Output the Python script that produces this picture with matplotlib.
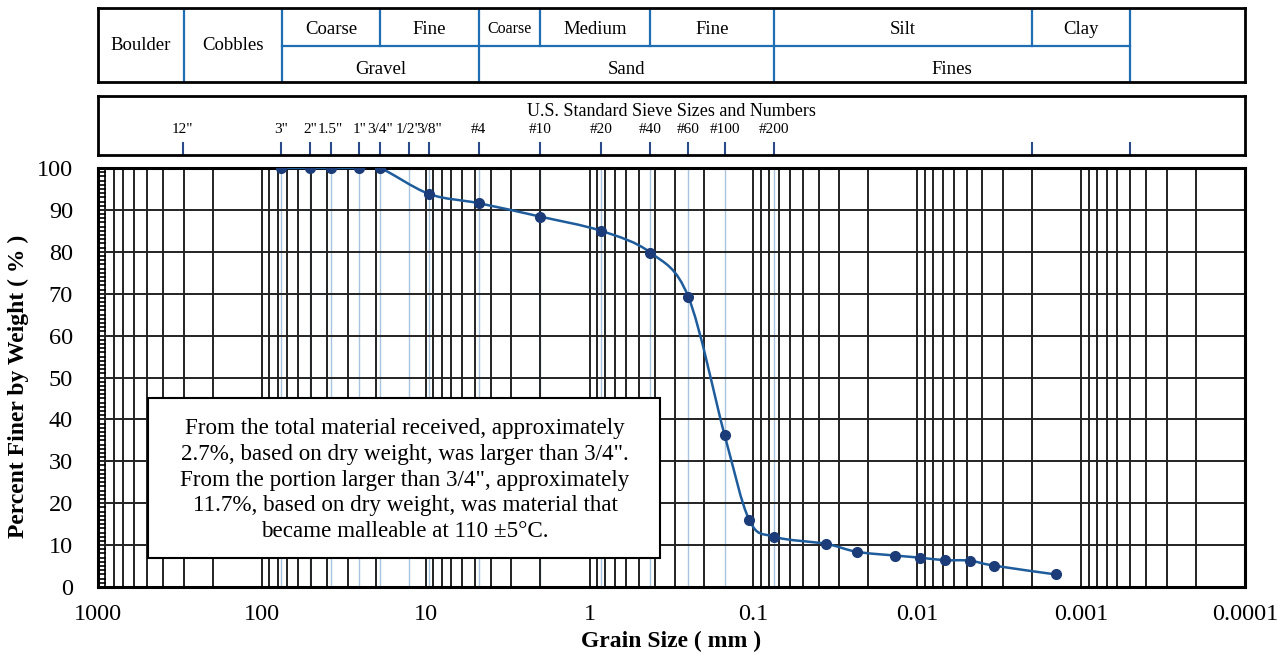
import numpy as np
import matplotlib
matplotlib.use("Agg")
import matplotlib.pyplot as plt
from matplotlib.path import Path
from matplotlib.patches import PathPatch, Rectangle
from matplotlib.ticker import FixedLocator, LogLocator, MultipleLocator, NullFormatter

plt.rcParams['font.family'] = ['Liberation Serif', 'DejaVu Serif']

# gradation results (grain size in mm, percent finer by weight)
grain_mm = [76.2, 50.8, 38.1, 25.4, 19.05, 9.525, 4.75, 2.0, 0.85, 0.425, 0.25,
            0.15, 0.106, 0.075, 0.0361, 0.0234, 0.0136, 0.0096, 0.0068, 0.0048,
            0.0034, 0.00143]
pct_finer = [100, 100, 100, 100, 100, 93.8, 91.6, 88.4, 85.0, 79.8, 69.3,
             36.3, 16.0, 12.0, 10.3, 8.4, 7.5, 7.0, 6.4, 6.3, 5.1, 3.0]

# sieve sizes shown in the middle strip
sieve_labels = ['12"', '3"', '2"', '1.5"', '1"', '3/4"', '1/2"', '3/8"',
                '#4', '#10', '#20', '#40', '#60', '#100', '#200']
sieve_mm = [304.8, 76.2, 50.8, 38.1, 25.4, 19.05, 12.7, 9.525,
            4.75, 2.0, 0.85, 0.425, 0.25, 0.15, 0.075]
extra_tick_mm = [0.002, 0.0005]

# soil classification table
full_names = ['Boulder', 'Cobbles']
full_lo = [1000, 300]
full_hi = [300, 75]
top_names = ['Coarse', 'Fine', 'Coarse', 'Medium', 'Fine', 'Silt', 'Clay']
top_lo = [75, 19, 4.75, 2.0, 0.425, 0.075, 0.002]
top_hi = [19, 4.75, 2.0, 0.425, 0.075, 0.002, 0.0005]
bottom_names = ['Gravel', 'Sand', 'Fines']
bottom_lo = [75, 4.75, 0.075]
bottom_hi = [4.75, 0.075, 0.0005]

x_ticks = [1000, 100, 10, 1, 0.1, 0.01, 0.001, 0.0001]
x_ticklabels = ['1000', '100', '10', '1', '0.1', '0.01', '0.001', '0.0001']

note = ('From the total material received, approximately\n'
        '2.7%, based on dry weight, was larger than 3/4".\n'
        'From the portion larger than 3/4", approximately\n'
        '11.7%, based on dry weight, was material that\n'
        'became malleable at 110 \u00b15\u00b0C.')

blue = '#1f6db3'
W, H = 1282, 658
fig = plt.figure(figsize=(W / 100, H / 100), dpi=100)


def box(x0, y0, x1, y1):
    return [x0 / W, 1 - y1 / H, (x1 - x0) / W, (y1 - y0) / H]


def setup_log(a):
    a.set_xscale('log')
    a.set_xlim(1000, 1e-4)
    a.set_xticks([])
    a.set_xticks([], minor=True)
    a.set_yticks([])
    for s in a.spines.values():
        s.set_linewidth(2)
        s.set_color('black')


# --- classification table ---
tab = fig.add_axes(box(98, 8, 1245, 82))
setup_log(tab)
tab.set_ylim(0, 1)
for x in [300, 75, 4.75, 0.075, 0.0005]:
    tab.axvline(x, color=blue, lw=1.6)
for x in [19, 2.0, 0.425, 0.002]:
    tab.plot([x, x], [0.49, 1], color=blue, lw=1.6)
tab.plot([75, 0.0005], [0.49, 0.49], color=blue, lw=1.6)
for n, lo, hi in zip(full_names, full_lo, full_hi):
    tab.text(np.sqrt(lo * hi), 0.5, n, ha='center', va='center', fontsize=13.5)
for i, (n, lo, hi) in enumerate(zip(top_names, top_lo, top_hi)):
    fs = 11.5 if i == 2 else 13.5
    tab.text(np.sqrt(lo * hi), 0.71, n, ha='center', va='center', fontsize=fs)
for n, lo, hi in zip(bottom_names, bottom_lo, bottom_hi):
    tab.text(np.sqrt(lo * hi), 0.17, n, ha='center', va='center', fontsize=13.5)

# --- sieve strip ---
sv = fig.add_axes(box(98, 96, 1245, 155))
setup_log(sv)
sv.set_ylim(0, 1)
for x in sieve_mm + extra_tick_mm:
    sv.plot([x, x], [0, 0.2], color='#2a4a8a', lw=1.5)
for lab, x in zip(sieve_labels, sieve_mm):
    sv.text(x, 0.43, lab, ha='center', va='center', fontsize=11)
sv.text(0.5, 0.74, 'U.S. Standard Sieve Sizes and Numbers', transform=sv.transAxes,
        ha='center', va='center', fontsize=13)

# --- main grading chart ---
ax = fig.add_axes(box(98, 168, 1245, 587))
ax.set_xscale('log')
ax.set_xlim(1000, 1e-4)
ax.set_ylim(0, 100)
ax.xaxis.set_major_locator(FixedLocator(x_ticks))
ax.set_xticklabels(x_ticklabels)
ax.xaxis.set_minor_locator(LogLocator(base=10, subs=range(2, 10), numticks=50))
ax.xaxis.set_minor_formatter(NullFormatter())
ax.yaxis.set_major_locator(MultipleLocator(10))
ax.yaxis.set_minor_locator(MultipleLocator(1))
ax.tick_params(axis='x', which='both', length=0, pad=12, labelsize=17.5)
ax.tick_params(axis='y', which='major', length=0, pad=18, labelsize=17.5)
ax.tick_params(axis='y', which='minor', direction='in', length=5.5, width=1.2)
ax.grid(True, which='both', axis='x', color='#222222', lw=1.4)
ax.grid(True, which='major', axis='y', color='#222222', lw=1.4)
ax.set_axisbelow(True)
for s in ax.spines.values():
    s.set_linewidth(2.2)
for x in sieve_mm[1:]:
    ax.axvline(x, color='#a9c4de', lw=1.0, zorder=0.5)

ax.add_patch(Rectangle((0.0436, 0.069), 0.4464, 0.382, transform=ax.transAxes,
                       facecolor='white', edgecolor='black', lw=1.5, zorder=3))
ax.text(0.2677, 0.255, note, transform=ax.transAxes, ha='center', va='center',
        fontsize=16.6, linespacing=1.3, zorder=4)

# smooth curve through the points (Catmull-Rom as cubic Bezier in log-x space)
P = np.column_stack([np.log10(grain_mm), pct_finer])
Pe = np.vstack([P[0], P, P[-1]])
verts = [P[0]]
codes = [Path.MOVETO]
for i in range(len(P) - 1):
    p0, p1, p2, p3 = Pe[i], Pe[i + 1], Pe[i + 2], Pe[i + 3]
    verts += [p1 + (p2 - p0) / 6, p2 - (p3 - p1) / 6, p2]
    codes += [Path.CURVE4] * 3
verts = np.array(verts)
verts[:, 0] = 10 ** verts[:, 0]
ax.add_patch(PathPatch(Path(verts, codes), transform=ax.transData, fill=False,
                       edgecolor='#1f5c9c', lw=1.8, zorder=5))
ax.plot(grain_mm, pct_finer, 'o', color='#1b3c78', ms=7, zorder=6)

ax.set_xlabel('Grain Size ( mm )', fontsize=17, fontweight='bold')
ax.set_ylabel('Percent Finer by Weight ( % )', fontsize=17, fontweight='bold')
ax.xaxis.set_label_coords(0.5, -0.105)
ax.yaxis.set_label_coords(-0.06, 0.48)

fig.savefig('out.png', dpi=100)
